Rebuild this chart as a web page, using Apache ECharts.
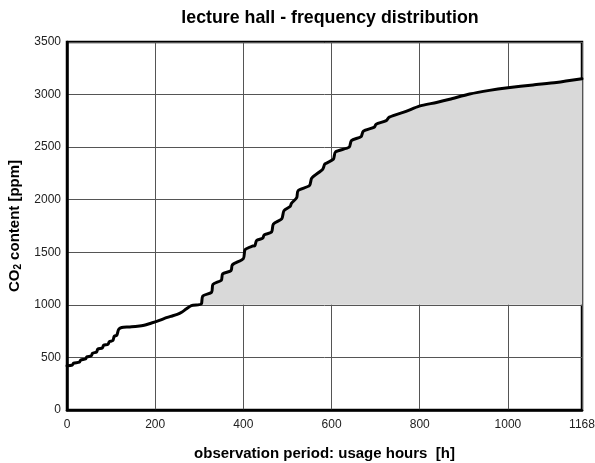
<!DOCTYPE html>
<html>
<head>
<meta charset="utf-8">
<script src="https://cdn.jsdelivr.net/npm/echarts@6/dist/echarts.min.js"></script>
<style>
  html, body { margin: 0; padding: 0; background: #fff; }
  #chart { width: 595px; height: 463px; }
</style>
</head>
<body>
<div id="chart"></div>
<script>
// hours of use (x) and CO2 reading (y)
const hours = [0, 12, 15, 28, 31, 42, 45, 55, 58, 67, 70, 80, 83, 93, 96, 104, 107, 113, 117, 124,
  140, 160, 175, 190, 205, 220, 235, 250, 260, 270, 282, 300, 305, 308, 328, 331, 350, 353, 372, 375,
  400, 404, 422, 426, 430, 444, 447, 464, 468, 487, 492, 506, 509, 521, 524, 550, 555, 580, 585, 604,
  609, 640, 645, 667, 672, 697, 701, 724, 731, 769, 799, 838, 868, 913, 958, 1000, 1057, 1110, 1168];
const co2 = [420, 428, 445, 455, 475, 485, 505, 515, 540, 552, 580, 590, 615, 625, 650, 660, 700, 712, 765, 784,
  790, 797, 806, 825, 845, 869, 890, 910, 930, 960, 992, 1002, 1010, 1085, 1120, 1195, 1235, 1295, 1325, 1380,
  1440, 1525, 1560, 1562, 1612, 1635, 1665, 1692, 1768, 1818, 1895, 1935, 1965, 2020, 2085, 2135, 2205, 2290, 2340, 2385,
  2455, 2500, 2562, 2600, 2652, 2690, 2718, 2752, 2785, 2840, 2890, 2925, 2955, 3005, 3040, 3065, 3092, 3115, 3150];
const xTicks = [0, 200, 400, 600, 800, 1000, 1168];
const fillFrom = 300;   // shaded above 1000 ppm from here on
const fillBase = 1000;

const curve = hours.map((h, i) => [h, co2[i]]);
const shaded = curve.filter(p => p[0] >= fillFrom);

const myChart = echarts.init(document.getElementById('chart'));
const font = '"Liberation Sans", Arial, sans-serif';

myChart.setOption({
  animation: false,
  title: {
    text: 'lecture hall - frequency distribution',
    left: 325,
    textAlign: 'center',
    top: 4,
    textStyle: { fontFamily: font, fontSize: 17.8, fontWeight: 'bold', color: '#000' }
  },
  grid: {
    left: 67, right: 13, top: 42, bottom: 53,
    containLabel: false,
    outerBoundsMode: 'none',
    show: true, borderColor: '#000', borderWidth: 2.5, backgroundColor: 'transparent'
  },
  xAxis: {
    type: 'value',
    min: 0, max: 1168,
    name: 'observation period: usage hours  [h]',
    nameLocation: 'middle',
    nameGap: 36,
    nameTextStyle: { fontFamily: font, fontSize: 15, fontWeight: 'bold', color: '#000' },
    axisLine: { show: true, onZero: false, lineStyle: { color: '#000', width: 2.5 } },
    axisTick: { show: false, customValues: xTicks },
    axisLabel: { customValues: xTicks, formatter: v => String(v), fontFamily: font, fontSize: 12, color: '#222', margin: 9 },
    splitLine: { show: true, lineStyle: { color: '#555', width: 1 } }
  },
  yAxis: {
    type: 'value',
    min: 0, max: 3500, interval: 500,
    name: 'CO{sub|2} content [ppm]',
    nameLocation: 'middle',
    nameGap: 27,
    nameTextStyle: {
      fontFamily: font, fontSize: 15, fontWeight: 'bold', color: '#000',
      rich: { sub: { fontFamily: font, fontSize: 10, fontWeight: 'bold', color: '#000', verticalAlign: 'bottom', padding: [7, 0, 0, 0] } }
    },
    axisLine: { show: true, lineStyle: { color: '#000', width: 2.5 } },
    axisTick: { show: false },
    axisLabel: { formatter: v => String(v), fontFamily: font, fontSize: 12, color: '#222', margin: 6 },
    splitLine: { show: true, lineStyle: { color: '#555', width: 1 } }
  },
  series: [
    { // gray area above 1000 ppm
      type: 'line',
      data: shaded,
      symbol: 'none',
      silent: true,
      smooth: 0.25,
      lineStyle: { width: 0, opacity: 0 },
      areaStyle: { color: '#d9d9d9', opacity: 1, origin: fillBase },
      z: 1
    },
    {
      type: 'line',
      data: curve,
      symbol: 'none',
      silent: true,
      smooth: 0.25,
      lineStyle: { color: '#000', width: 3, join: 'round', cap: 'round' },
      z: 3
    }
  ]
});
</script>
</body>
</html>
